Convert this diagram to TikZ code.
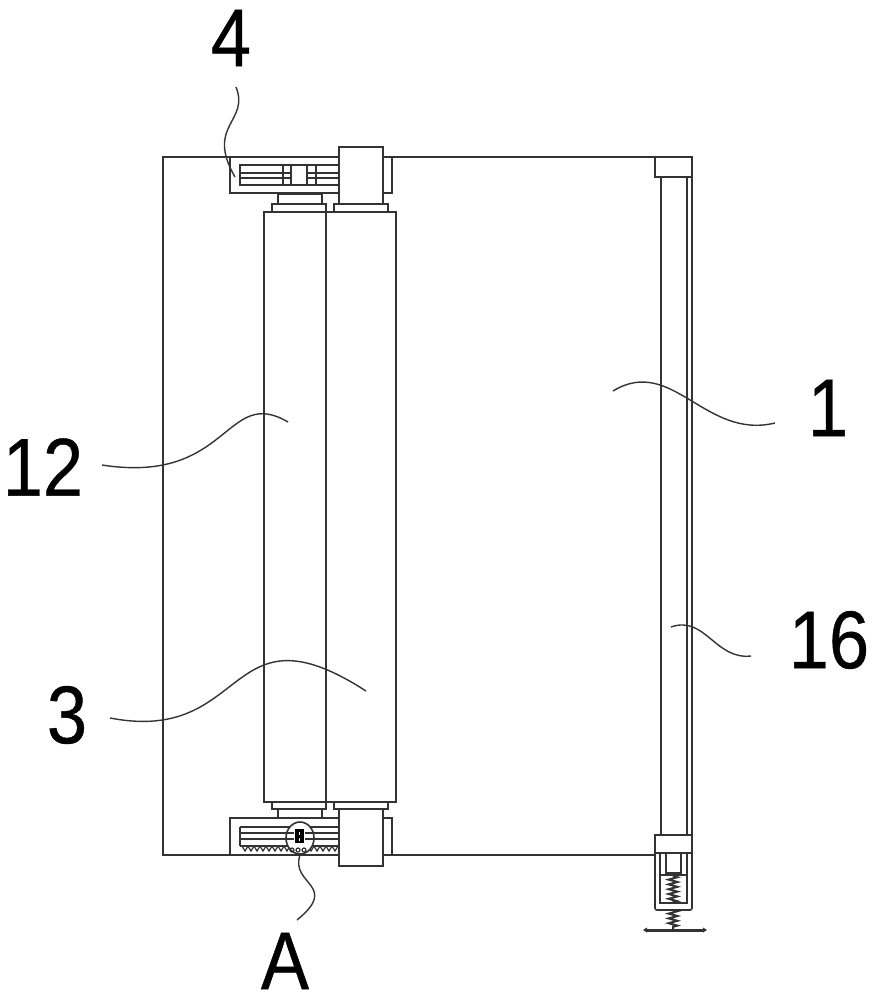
\documentclass[tikz,border=0pt]{standalone}
\usepackage{xcolor}
\usepackage{fontspec}
\setmainfont[FakeStretch=0.88,FakeBold=0.5]{Liberation Sans}
\usetikzlibrary{decorations.pathmorphing}
\definecolor{inkgray}{HTML}{333333}
\begin{document}
\begin{tikzpicture}[x=0.5pt,y=-0.5pt]
\tikzstyle{part}=[draw=inkgray,line width=0.8pt,fill=white]
\tikzstyle{edge}=[draw=inkgray,line width=0.8pt]
\tikzstyle{leader}=[draw=inkgray,line width=0.7pt]
\tikzstyle{mark label}=[inner sep=0pt,outer sep=0pt,text=black,font=\fontsize{41}{41}\selectfont]
\tikzstyle{coil}=[draw=inkgray,line width=1pt,decorate,decoration={zigzag,amplitude=2.2pt,segment length=2.4pt}]
\useasboundingbox (0,0) rectangle (877,1000);
% plate
\draw[edge] (692,157) -- (163,157) -- (163,855) -- (655,855);
\draw[edge] (692,157) -- (692,835);
% rail
\draw[edge] (661,177) -- (661,835);
\draw[edge] (687,177) -- (687,835);
\draw[part] (655,157) rectangle (692,177);
% rollers
\draw[part] (264,212) rectangle (326,802);
\draw[part] (326,212) rectangle (396,802);
% collars, top and bottom
\foreach \ya/\yb/\yc in {212/204/194,802/809/818}{
	\draw[part] (272,\ya) rectangle (326,\yb);
	\draw[part] (278,\yb) rectangle (322,\yc);
	\draw[part] (334,\ya) rectangle (388,\yb);
}
% top gear box
\draw[part] (230,157) rectangle (392,193);
\draw[edge] (240,165) rectangle (339,185);
\draw[edge] (240,173) -- (339,173);
\draw[edge] (240,178) -- (339,178);
\draw[edge] (283,165) -- (283,185);
\draw[edge] (316,165) -- (316,185);
\draw[part] (291,165) rectangle (307,185);
\draw[part] (339,147) rectangle (383,204);
% bottom gear box
\draw[part] (230,818) rectangle (392,855);
\draw[edge] (240,827) -- (339,827) (240,833) -- (339,833) (240,839) -- (339,839) (240,846) -- (339,846);
\draw[edge] (240,827) -- (240,846);
\foreach \x in {242,248,...,336}{
	\draw[edge,line width=0.6pt] (\x,846) -- (\x+3,851) -- (\x+6,846);
}
\draw[edge] (230,855) -- (339,855);
\draw[part] (339,809) rectangle (383,866);
% detail A
\draw[part] (300,838) ellipse (14 and 16);
\draw[edge] (287,833) -- (294,833) (287,839) -- (294,839) (305,833) -- (313,833) (305,839) -- (313,839);
\fill[black] (295,829) rectangle (304,843);
\draw[white,line width=0.7pt] (299.5,832) -- (299.5,835) (299.5,838) -- (299.5,841);
\foreach \x in {292,298,304}{
	\draw[edge,line width=0.6pt] (\x,850) circle (2);
}
% foot
\draw[part] (655,835) rectangle (692,853);
\draw[edge,rounded corners=1pt] (655,853) -- (655,910) -- (692,910) -- (692,853);
\draw[edge] (660,853) -- (660,903) -- (687,903) -- (687,853);
\draw[edge] (666,853) -- (666,873) -- (681,873) -- (681,853);
\draw[edge] (660,875) -- (687,875);
\draw[coil] (673,876) -- (673,903);
\draw[coil] (673,910) -- (673,929);
\draw[draw=inkgray,line width=1.5pt] (646,930) -- (704,930);
\fill[inkgray] (643,930) -- (647,927.5) -- (647,932.5) -- cycle;
\fill[inkgray] (707,930) -- (703,927.5) -- (703,932.5) -- cycle;
% labels
\node[mark label] (mark4) at (231,38) {4};
\node[mark label] (mark12) at (43,467) {12};
\node[mark label] (mark3) at (67,715) {3};
\node[mark label] (mark1) at (828,408) {1};
\node[mark label] (mark16) at (829,640) {16};
\node[mark label] (markA) at (285,961) {A};
\coordinate (end4) at (235,177);
\coordinate (end12) at (288,422);
\coordinate (end3) at (366,691);
\coordinate (end1) at (613,391);
\coordinate (end16) at (671,627);
\coordinate (endA) at (300,855);
\draw[leader] ([shift={(5,49)}]mark4.center) .. controls (250,122) and (205,125) .. (end4);
\draw[leader] ([shift={(59,-2)}]mark12.center) .. controls (230,485) and (225,385) .. (end12);
\draw[leader] ([shift={(43,3)}]mark3.center) .. controls (250,745) and (225,600) .. (end3);
\draw[leader] ([shift={(-53,15)}]mark1.center) .. controls (705,440) and (672,355) .. (end1);
\draw[leader] ([shift={(-78,16)}]mark16.center) .. controls (715,660) and (705,615) .. (end16);
\draw[leader] ([shift={(12,-41)}]markA.center) .. controls (340,885) and (290,885) .. (endA);
\end{tikzpicture}
\end{document}
